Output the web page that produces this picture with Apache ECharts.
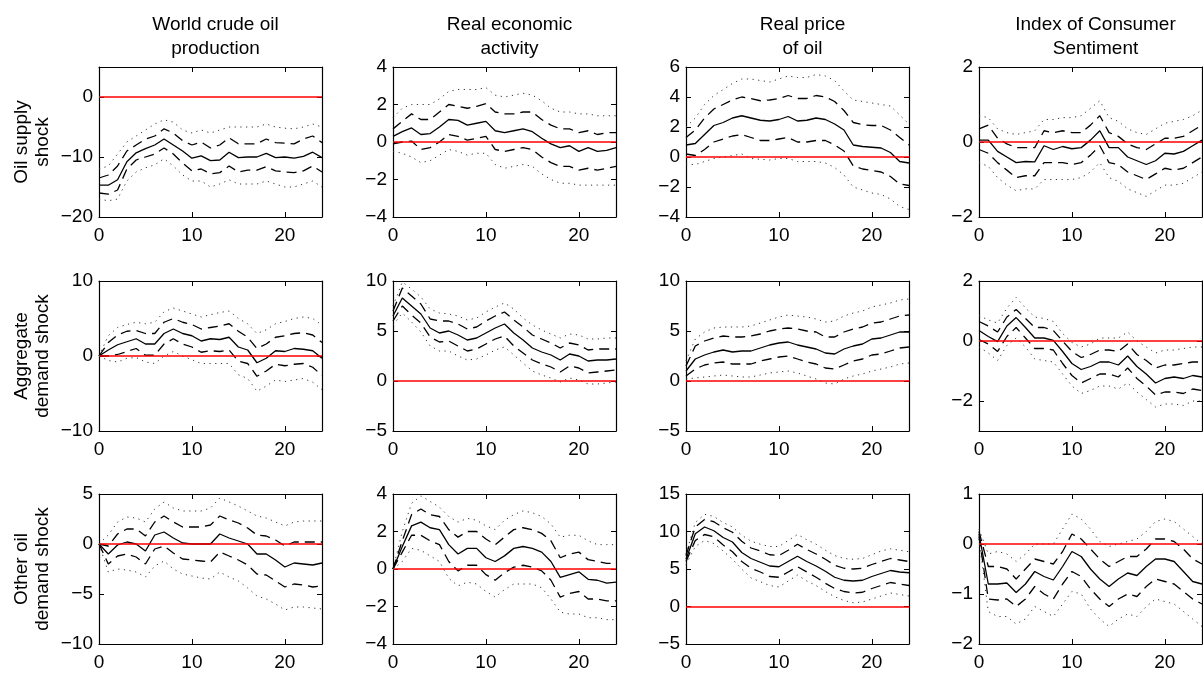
<!DOCTYPE html>
<html>
<head>
<meta charset="utf-8">
<script src="https://cdn.jsdelivr.net/npm/echarts@6/dist/echarts.min.js"></script>
<style>
html, body { margin: 0; padding: 0; background: #fff; }
#chart_block { width: 1203px; height: 673px; }
</style>
</head>
<body>
<div id="chart_block"></div>
<script>
// horizon (months) and labels
var months = [0,1,2,3,4,5,6,7,8,9,10,11,12,13,14,15,16,17,18,19,20,21,22,23,24];
var xTicks = [0, 10, 20];
var colTitles = ['World crude oil\nproduction', 'Real economic\nactivity', 'Real price\nof oil', 'Index of Consumer\nSentiment'];
var rowTitles = ['Oil supply\nshock', 'Aggregate\ndemand shock', 'Other oil\ndemand shock'];

// y ranges / tick labels per row (4 columns each)
var yMin = [[-20, -4, -4, -2], [-10, -5, -5, -3], [-10, -4, -5, -2]];
var yMax = [[5, 4, 6, 2], [10, 10, 10, 2], [5, 4, 15, 1]];
var yTicks = [
	[[-20, -10, 0], [-4, -2, 0, 2, 4], [-4, -2, 0, 2, 4, 6], [-2, 0, 2]],
	[[-10, 0, 10], [-5, 0, 5, 10], [-5, 0, 5, 10], [-2, 0, 2]],
	[[-10, -5, 0, 5], [-4, -2, 0, 2, 4], [-5, 0, 5, 10, 15], [-2, -1, 0, 1]]
];

// ---- oil supply shock ----
var supply_prod_irf = [-14.7,-14.7,-13.8,-10.8,-9.3,-8.6,-8.0,-7.0,-8.0,-9.0,-10.2,-9.8,-10.6,-10.5,-9.2,-10.1,-10.0,-10.0,-9.4,-10.1,-10.0,-10.2,-9.9,-9.2,-10.1];
var supply_prod_up1 = [-13.5,-13.0,-11.5,-9.0,-8.0,-7.0,-6.5,-5.3,-6.0,-7.3,-8.0,-7.5,-8.5,-8.0,-6.8,-7.8,-7.8,-7.8,-7.0,-7.6,-7.7,-7.8,-7.0,-6.5,-7.6];
var supply_prod_lo1 = [-16.0,-16.2,-15.5,-12.0,-10.5,-10.0,-9.5,-8.5,-9.5,-11.0,-12.3,-12.0,-12.8,-12.6,-11.5,-12.5,-12.2,-12.2,-11.6,-12.3,-12.5,-12.6,-12.3,-11.5,-12.5];
var supply_prod_up2 = [-12.0,-11.5,-9.5,-7.5,-6.5,-5.5,-4.5,-3.8,-4.2,-5.5,-6.0,-5.5,-6.0,-5.5,-5.0,-5.0,-5.0,-5.0,-4.5,-5.0,-5.2,-5.3,-5.0,-4.5,-5.0];
var supply_prod_lo2 = [-17.0,-17.3,-17.0,-14.0,-12.5,-11.8,-11.3,-10.3,-11.5,-13.0,-14.0,-14.0,-15.0,-14.5,-13.8,-14.5,-14.5,-14.5,-14.0,-14.5,-15.0,-15.0,-14.5,-14.0,-15.0];

var supply_rea_irf = [0.3,0.55,0.75,0.4,0.45,0.8,1.2,1.15,0.9,1.0,1.1,0.6,0.5,0.6,0.7,0.55,0.2,-0.1,-0.3,-0.2,-0.5,-0.3,-0.5,-0.45,-0.3];
var supply_rea_up1 = [0.7,1.1,1.5,1.2,1.2,1.6,2.0,1.9,1.8,1.9,2.05,1.6,1.5,1.5,1.6,1.6,1.2,0.9,0.7,0.7,0.5,0.6,0.4,0.5,0.5];
var supply_rea_lo1 = [-0.1,0.0,0.05,-0.4,-0.3,0.0,0.4,0.3,0.1,0.2,0.3,-0.4,-0.5,-0.4,-0.3,-0.4,-0.8,-1.1,-1.3,-1.3,-1.5,-1.4,-1.5,-1.4,-1.3];
var supply_rea_up2 = [1.3,1.8,2.0,2.0,2.0,2.3,2.7,2.8,2.8,2.8,2.9,2.5,2.4,2.5,2.6,2.5,2.2,1.8,1.6,1.6,1.5,1.5,1.4,1.4,1.4];
var supply_rea_lo2 = [-0.5,-0.6,-0.8,-1.1,-1.0,-0.7,-0.4,-0.5,-0.7,-0.6,-0.6,-1.2,-1.4,-1.3,-1.2,-1.3,-1.7,-2.0,-2.2,-2.2,-2.3,-2.3,-2.3,-2.3,-2.3];

var supply_rpo_irf = [0.8,0.9,1.5,2.1,2.3,2.6,2.75,2.6,2.45,2.4,2.5,2.7,2.4,2.45,2.6,2.5,2.2,1.8,0.8,0.7,0.65,0.6,0.3,-0.3,-0.4];
var supply_rpo_up1 = [1.3,1.8,2.6,3.2,3.5,3.8,4.0,3.9,3.75,3.8,3.9,4.1,3.9,3.9,4.1,4.0,3.7,3.1,2.3,2.15,2.1,2.1,1.8,1.3,0.8];
var supply_rpo_lo1 = [0.2,0.1,0.5,1.0,1.2,1.4,1.5,1.3,1.1,1.1,1.2,1.3,1.0,1.0,1.1,1.1,0.8,0.4,-0.6,-0.8,-0.9,-1.0,-1.3,-1.8,-1.9];
var supply_rpo_up2 = [2.0,2.6,3.5,4.1,4.5,4.9,5.2,5.2,5.1,5.0,5.2,5.4,5.3,5.3,5.5,5.4,5.1,4.4,3.8,3.7,3.6,3.5,3.4,2.8,2.2];
var supply_rpo_lo2 = [-0.5,-0.5,-0.3,-0.1,0.0,0.1,0.2,-0.1,-0.15,-0.2,-0.1,-0.1,-0.3,-0.3,-0.3,-0.4,-0.7,-1.2,-2.0,-2.2,-2.4,-2.5,-2.8,-3.3,-3.5];

var supply_ics_irf = [0.05,0.05,-0.25,-0.4,-0.55,-0.52,-0.53,-0.1,-0.2,-0.12,-0.18,-0.15,0.05,0.3,-0.15,-0.15,-0.4,-0.5,-0.6,-0.5,-0.3,-0.32,-0.25,-0.1,0.05];
var supply_ics_up1 = [0.35,0.45,0.1,-0.05,-0.15,-0.15,-0.15,0.3,0.25,0.3,0.25,0.25,0.45,0.7,0.25,0.15,-0.05,-0.15,-0.2,-0.05,0.1,0.1,0.15,0.3,0.45];
var supply_ics_lo1 = [-0.2,-0.3,-0.55,-0.75,-0.95,-0.9,-0.9,-0.55,-0.55,-0.55,-0.6,-0.55,-0.35,-0.1,-0.55,-0.6,-0.8,-0.9,-1.0,-0.85,-0.7,-0.75,-0.7,-0.55,-0.4];
var supply_ics_up2 = [0.7,0.65,0.35,0.25,0.2,0.25,0.3,0.6,0.6,0.65,0.65,0.7,0.9,1.1,0.65,0.55,0.35,0.25,0.2,0.35,0.5,0.55,0.6,0.7,0.85];
var supply_ics_lo2 = [-0.55,-0.65,-0.95,-1.15,-1.3,-1.25,-1.25,-1.0,-1.0,-1.0,-1.0,-0.95,-0.8,-0.55,-0.95,-1.05,-1.25,-1.35,-1.45,-1.3,-1.15,-1.15,-1.1,-0.95,-0.8];

// ---- aggregate demand shock ----
var aggdem_prod_irf = [0,0.8,1.5,1.9,2.3,1.6,1.6,3.0,3.6,3.0,2.7,2.0,2.3,2.2,2.5,1.2,0.8,-0.9,-0.3,0.7,0.6,1.0,0.9,0.7,-0.3];
var aggdem_prod_up1 = [0,1.8,2.8,3.3,3.4,3.0,3.0,4.5,5.0,4.5,4.2,3.6,3.8,4.0,4.3,3.3,2.5,1.0,1.6,2.5,2.7,3.0,3.1,2.8,1.8];
var aggdem_prod_lo1 = [0,0.0,0.2,0.6,1.0,0.1,0.1,1.6,2.3,1.6,1.2,0.5,0.7,0.6,0.8,-0.7,-1.0,-2.7,-2.0,-1.1,-1.3,-1.1,-1.0,-1.5,-2.6];
var aggdem_prod_up2 = [0,2.7,3.8,4.2,4.5,4.3,4.5,5.9,6.4,6.0,5.6,5.2,5.5,5.8,6.0,5.0,4.3,3.0,3.5,4.3,4.6,5.0,5.2,5.0,4.1];
var aggdem_prod_lo2 = [0,-0.6,-0.8,-0.3,-0.2,-0.8,-1.0,0.0,0.6,0.0,-0.5,-1.0,-1.0,-1.0,-1.0,-2.5,-3.0,-4.7,-4.0,-3.2,-3.4,-3.2,-3.0,-3.5,-4.5];

var aggdem_rea_irf = [6.5,8.3,7.5,6.7,5.3,4.8,5.0,4.6,4.1,4.3,4.8,5.3,5.7,4.8,4.1,3.3,2.9,2.6,2.1,2.7,2.5,2.0,2.1,2.1,2.2];
var aggdem_rea_up1 = [7.0,9.3,8.5,7.7,6.2,6.0,6.0,5.7,5.2,5.4,6.0,6.5,6.9,6.1,5.4,4.6,4.2,3.8,3.3,3.8,3.6,3.1,3.2,3.2,3.2];
var aggdem_rea_lo1 = [6.0,7.5,6.6,5.8,4.4,3.9,4.0,3.5,3.0,3.2,3.7,4.2,4.5,3.5,2.8,2.1,1.7,1.4,0.9,1.5,1.3,0.8,0.9,1.0,1.1];
var aggdem_rea_up2 = [7.5,9.9,9.2,8.4,7.2,6.8,6.7,6.5,6.1,6.3,6.9,7.4,7.8,7.2,6.3,5.6,5.1,4.7,4.3,4.7,4.6,4.2,4.2,4.3,4.3];
var aggdem_rea_lo2 = [5.6,6.8,5.9,4.9,3.5,3.0,3.0,2.5,2.1,2.2,2.6,3.1,3.4,2.6,1.8,1.0,0.6,0.3,-0.1,0.3,0.1,-0.3,-0.3,-0.2,-0.1];

var aggdem_rpo_irf = [1.0,2.2,2.6,2.9,3.1,2.9,3.0,3.0,3.3,3.6,3.8,3.9,3.6,3.4,3.2,2.8,2.7,3.2,3.5,3.7,4.2,4.3,4.6,4.9,4.9];
var aggdem_rpo_up1 = [1.5,3.5,4.0,4.3,4.5,4.4,4.4,4.5,4.7,5.0,5.2,5.3,5.2,5.0,4.9,4.4,4.4,4.9,5.2,5.4,5.8,5.9,6.2,6.5,6.6];
var aggdem_rpo_lo1 = [0.5,1.2,1.6,1.8,1.9,1.7,1.7,1.7,2.0,2.2,2.4,2.5,2.2,1.9,1.7,1.3,1.2,1.6,2.0,2.2,2.6,2.7,3.0,3.3,3.4];
var aggdem_rpo_up2 = [2.0,4.2,4.9,5.3,5.4,5.4,5.4,5.5,5.8,6.1,6.4,6.6,6.5,6.4,6.2,5.9,6.0,6.5,6.8,7.0,7.4,7.6,7.8,8.1,8.2];
var aggdem_rpo_lo2 = [0.2,0.3,0.4,0.5,0.6,0.5,0.4,0.4,0.6,0.8,0.9,1.0,0.8,0.5,0.2,-0.2,-0.3,0.2,0.5,0.7,1.0,1.2,1.4,1.7,1.8];

var aggdem_ics_irf = [0.35,0.15,-0.02,0.5,0.78,0.45,0.1,0.1,0.02,-0.35,-0.75,-0.95,-0.85,-0.7,-0.7,-0.8,-0.5,-0.85,-1.1,-1.4,-1.25,-1.2,-1.25,-1.15,-1.2];
var aggdem_ics_up1 = [0.65,0.5,0.3,0.8,1.05,0.75,0.45,0.45,0.35,0.0,-0.35,-0.55,-0.45,-0.3,-0.3,-0.35,-0.1,-0.45,-0.65,-0.9,-0.8,-0.8,-0.75,-0.7,-0.7];
var aggdem_ics_lo1 = [0.05,-0.1,-0.35,0.15,0.45,0.1,-0.25,-0.25,-0.3,-0.75,-1.15,-1.4,-1.25,-1.1,-1.1,-1.2,-0.9,-1.25,-1.5,-1.8,-1.7,-1.7,-1.75,-1.6,-1.65];
var aggdem_ics_up2 = [0.85,0.7,0.6,1.1,1.45,1.1,0.8,0.75,0.65,0.25,-0.05,-0.2,-0.1,0.1,0.1,0.1,0.3,0.0,-0.2,-0.4,-0.3,-0.3,-0.25,-0.2,-0.2];
var aggdem_ics_lo2 = [-0.2,-0.4,-0.65,-0.15,0.1,-0.2,-0.6,-0.65,-0.7,-1.1,-1.5,-1.75,-1.65,-1.5,-1.5,-1.6,-1.4,-1.7,-1.95,-2.2,-2.1,-2.1,-2.15,-2.0,-2.0];

// ---- other oil demand shock ----
var oildem_prod_irf = [0,-1.0,-0.1,0.2,0.0,-0.7,0.9,1.2,0.6,0.1,0.0,0.0,0.0,1.0,0.6,0.3,0.0,-1.0,-1.0,-1.6,-2.3,-1.9,-2.0,-2.1,-1.9];
var oildem_prod_up1 = [0,-0.2,1.0,1.5,1.5,0.8,2.2,2.8,2.2,1.7,1.7,1.7,1.9,2.8,2.4,2.1,1.6,0.9,0.8,0.4,-0.2,0.2,0.2,0.2,0.2];
var oildem_prod_lo1 = [0,-2.0,-1.2,-1.0,-1.3,-2.0,-0.5,-0.2,-0.9,-1.5,-1.6,-1.7,-1.8,-0.8,-1.2,-1.6,-2.1,-3.0,-3.1,-3.7,-4.3,-4.0,-4.1,-4.3,-4.2];
var oildem_prod_up2 = [0,0.9,2.2,2.7,2.6,2.2,3.5,4.2,3.6,3.3,3.3,3.3,3.6,4.6,4.2,3.8,3.3,2.8,2.6,2.2,1.8,2.2,2.3,2.3,2.3];
var oildem_prod_lo2 = [0,-2.8,-2.5,-2.6,-2.8,-3.3,-2.2,-1.7,-2.5,-3.0,-3.2,-3.4,-3.5,-2.8,-3.3,-3.7,-4.4,-5.2,-5.5,-6.0,-6.6,-6.3,-6.3,-6.4,-6.5];

var oildem_rea_irf = [0,1.2,2.3,2.5,2.2,2.1,1.3,0.8,1.1,1.1,0.6,0.4,0.7,1.1,1.2,1.1,0.9,0.4,-0.45,-0.3,-0.15,-0.55,-0.6,-0.75,-0.7];
var oildem_rea_up1 = [0,1.5,2.9,3.2,2.9,2.8,2.1,1.7,2.0,2.0,1.6,1.3,1.7,2.1,2.2,2.1,1.9,1.5,0.6,0.8,0.9,0.5,0.4,0.3,0.3];
var oildem_rea_lo1 = [0,0.9,1.8,1.8,1.5,1.3,0.4,-0.1,0.2,0.2,-0.3,-0.6,-0.2,0.1,0.2,0.1,-0.1,-0.6,-1.5,-1.3,-1.2,-1.6,-1.6,-1.7,-1.7];
var oildem_rea_up2 = [0,2.0,3.5,3.9,3.6,3.3,2.8,2.5,2.7,2.6,2.3,2.1,2.6,2.9,3.1,3.0,2.8,2.4,1.7,1.8,1.8,1.5,1.3,1.3,1.3];
var oildem_rea_lo2 = [0,0.4,1.1,1.0,0.7,0.4,-0.5,-0.9,-0.7,-0.8,-1.2,-1.5,-1.1,-0.8,-0.8,-0.8,-1.0,-1.6,-2.3,-2.4,-2.4,-2.6,-2.6,-2.7,-2.7];

var oildem_rpo_irf = [6.3,9.7,10.6,10.1,9.2,8.6,7.2,6.4,5.9,5.4,5.3,6.0,6.7,6.0,5.4,4.7,3.9,3.5,3.4,3.5,4.0,4.4,4.8,4.6,4.5];
var oildem_rpo_up1 = [6.8,10.6,11.6,11.3,10.5,9.9,8.7,7.8,7.4,6.9,6.8,7.5,8.3,7.6,7.0,6.3,5.5,5.1,5.0,5.1,5.6,6.0,6.4,6.2,6.0];
var oildem_rpo_lo1 = [6.0,8.8,9.6,9.3,8.2,7.3,6.0,5.1,4.6,4.0,3.9,4.6,5.3,4.6,3.9,3.1,2.4,2.0,1.8,1.9,2.4,2.8,3.2,3.0,2.8];
var oildem_rpo_up2 = [7.0,11.2,12.3,12.0,11.2,10.6,9.5,8.7,8.3,8.0,8.0,8.8,9.6,8.9,8.3,7.5,6.8,6.4,6.3,6.4,6.9,7.4,7.7,7.5,7.3];
var oildem_rpo_lo2 = [5.6,8.0,8.8,8.4,7.4,6.3,5.0,3.8,3.3,2.8,2.6,3.4,4.2,3.4,2.8,2.0,1.3,0.8,0.5,0.6,1.0,1.4,1.8,1.6,1.4];

var oildem_ics_irf = [0.2,-0.8,-0.8,-0.78,-0.97,-0.8,-0.55,-0.65,-0.72,-0.45,-0.15,-0.25,-0.5,-0.7,-0.85,-0.7,-0.58,-0.63,-0.45,-0.3,-0.3,-0.35,-0.55,-0.75,-0.8];
var oildem_ics_up1 = [0.25,-0.45,-0.45,-0.5,-0.7,-0.5,-0.3,-0.35,-0.4,-0.15,0.2,0.1,-0.1,-0.3,-0.45,-0.35,-0.25,-0.25,-0.1,0.1,0.1,0.05,-0.1,-0.3,-0.4];
var oildem_ics_lo1 = [0.15,-1.1,-1.12,-1.1,-1.25,-1.1,-0.85,-1.0,-1.1,-0.8,-0.55,-0.65,-0.9,-1.1,-1.25,-1.1,-1.0,-1.05,-0.85,-0.7,-0.75,-0.8,-0.95,-1.1,-1.2];
var oildem_ics_up2 = [0.3,-0.2,-0.15,-0.2,-0.35,-0.2,0.0,0.0,0.0,0.3,0.6,0.5,0.3,0.05,-0.05,0.0,0.05,0.1,0.25,0.45,0.5,0.45,0.3,0.15,0.0];
var oildem_ics_lo2 = [0.1,-1.35,-1.45,-1.45,-1.6,-1.5,-1.25,-1.35,-1.45,-1.2,-0.95,-1.0,-1.3,-1.5,-1.65,-1.5,-1.4,-1.45,-1.25,-1.1,-1.15,-1.2,-1.35,-1.5,-1.65];

// [irf, upper 1sd, lower 1sd, upper 2sd, lower 2sd] for each panel, row by row
var panels = [
	[
		[supply_prod_irf, supply_prod_up1, supply_prod_lo1, supply_prod_up2, supply_prod_lo2],
		[supply_rea_irf, supply_rea_up1, supply_rea_lo1, supply_rea_up2, supply_rea_lo2],
		[supply_rpo_irf, supply_rpo_up1, supply_rpo_lo1, supply_rpo_up2, supply_rpo_lo2],
		[supply_ics_irf, supply_ics_up1, supply_ics_lo1, supply_ics_up2, supply_ics_lo2]
	],
	[
		[aggdem_prod_irf, aggdem_prod_up1, aggdem_prod_lo1, aggdem_prod_up2, aggdem_prod_lo2],
		[aggdem_rea_irf, aggdem_rea_up1, aggdem_rea_lo1, aggdem_rea_up2, aggdem_rea_lo2],
		[aggdem_rpo_irf, aggdem_rpo_up1, aggdem_rpo_lo1, aggdem_rpo_up2, aggdem_rpo_lo2],
		[aggdem_ics_irf, aggdem_ics_up1, aggdem_ics_lo1, aggdem_ics_up2, aggdem_ics_lo2]
	],
	[
		[oildem_prod_irf, oildem_prod_up1, oildem_prod_lo1, oildem_prod_up2, oildem_prod_lo2],
		[oildem_rea_irf, oildem_rea_up1, oildem_rea_lo1, oildem_rea_up2, oildem_rea_lo2],
		[oildem_rpo_irf, oildem_rpo_up1, oildem_rpo_lo1, oildem_rpo_up2, oildem_rpo_lo2],
		[oildem_ics_irf, oildem_ics_up1, oildem_ics_lo1, oildem_ics_up2, oildem_ics_lo2]
	]
];

var fontFam = '"Liberation Sans", Arial, Helvetica, sans-serif';
var colLeft = [99, 393, 686, 979];
var rowTop = [67, 281, 494];
var plotW = 223, plotH = 150;

function pairs(arr){
	return months.map(function(m, i){ return [m, arr[i]]; });
}

function minus(v){
	return String(v).replace('-', '\u2212');
}

var grids = [], xAxes = [], yAxes = [], series = [], titles = [];

colTitles.forEach(function(t, c){
	titles.push({
		text: t,
		left: colLeft[c] + plotW / 2,
		top: 8,
		textAlign: 'center',
		textStyle: { fontFamily: fontFam, fontSize: 19, fontWeight: 'normal', color: '#000', lineHeight: 24 }
	});
});

for (var r = 0; r < 3; r++){
	for (var c = 0; c < 4; c++){
		var k = grids.length;
		grids.push({ left: colLeft[c], top: rowTop[r], width: plotW, height: plotH });

		var boxLine = { show: true, onZero: false, lineStyle: { color: '#000', width: 1.2 } };
		xAxes.push({
			type: 'value', gridIndex: k, min: 0, max: 24, position: 'bottom',
			axisLine: boxLine,
			axisTick: { inside: true, length: 5, customValues: xTicks, lineStyle: { color: '#000' } },
			axisLabel: { customValues: xTicks, fontFamily: fontFam, fontSize: 19, color: '#000', margin: 9 },
			splitLine: { show: false }
		});
		xAxes.push({
			type: 'value', gridIndex: k, min: 0, max: 24, position: 'top',
			axisLine: boxLine,
			axisTick: { inside: true, length: 5, customValues: xTicks, lineStyle: { color: '#000' } },
			axisLabel: { show: false },
			splitLine: { show: false }
		});
		var yl = {
			type: 'value', gridIndex: k, min: yMin[r][c], max: yMax[r][c], position: 'left',
			axisLine: boxLine,
			axisTick: { inside: true, length: 5, customValues: yTicks[r][c], lineStyle: { color: '#000' } },
			axisLabel: { customValues: yTicks[r][c], formatter: minus, fontFamily: fontFam, fontSize: 19, color: '#000', margin: 6 },
			splitLine: { show: false }
		};
		if (c == 0){
			yl.name = rowTitles[r];
			yl.nameLocation = 'middle';
			yl.nameRotate = 90;
			yl.nameGap = 46;
			yl.nameTextStyle = { fontFamily: fontFam, fontSize: 19, color: '#000', lineHeight: 21 };
		}
		yAxes.push(yl);
		yAxes.push({
			type: 'value', gridIndex: k, min: yMin[r][c], max: yMax[r][c], position: 'right',
			axisLine: boxLine,
			axisTick: { inside: true, length: 5, customValues: yTicks[r][c], lineStyle: { color: '#000' } },
			axisLabel: { show: false },
			splitLine: { show: false }
		});

		var p = panels[r][c];
		var styles = [
			{ idx: 4, lineStyle: { color: '#333', width: 1, type: [1.2, 4.5] } },
			{ idx: 3, lineStyle: { color: '#333', width: 1, type: [1.2, 4.5] } },
			{ idx: 2, lineStyle: { color: '#000', width: 1.3, type: [10, 6] } },
			{ idx: 1, lineStyle: { color: '#000', width: 1.3, type: [10, 6] } },
			{ idx: 0, lineStyle: { color: '#000', width: 1.3, type: 'solid' } }
		];
		styles.forEach(function(s, j){
			var ser = {
				type: 'line',
				xAxisIndex: 2 * k,
				yAxisIndex: 2 * k,
				data: pairs(p[s.idx]),
				showSymbol: false,
				symbol: 'none',
				silent: true,
				lineStyle: s.lineStyle
			};
			if (j == 0){
				ser.markLine = {
					silent: true,
					symbol: ['none', 'none'],
					label: { show: false },
					lineStyle: { color: '#ff0000', width: 1.5, type: 'solid' },
					data: [{ yAxis: 0 }]
				};
			}
			series.push(ser);
		});
	}
}

var chartDom = document.getElementById('chart_block');
var myChart = echarts.init(chartDom);

var options = {
	animation: false,
	backgroundColor: '#fff',
	title: titles,
	grid: grids,
	xAxis: xAxes,
	yAxis: yAxes,
	series: series
};

myChart.setOption(options, true);
</script>
</body>
</html>
